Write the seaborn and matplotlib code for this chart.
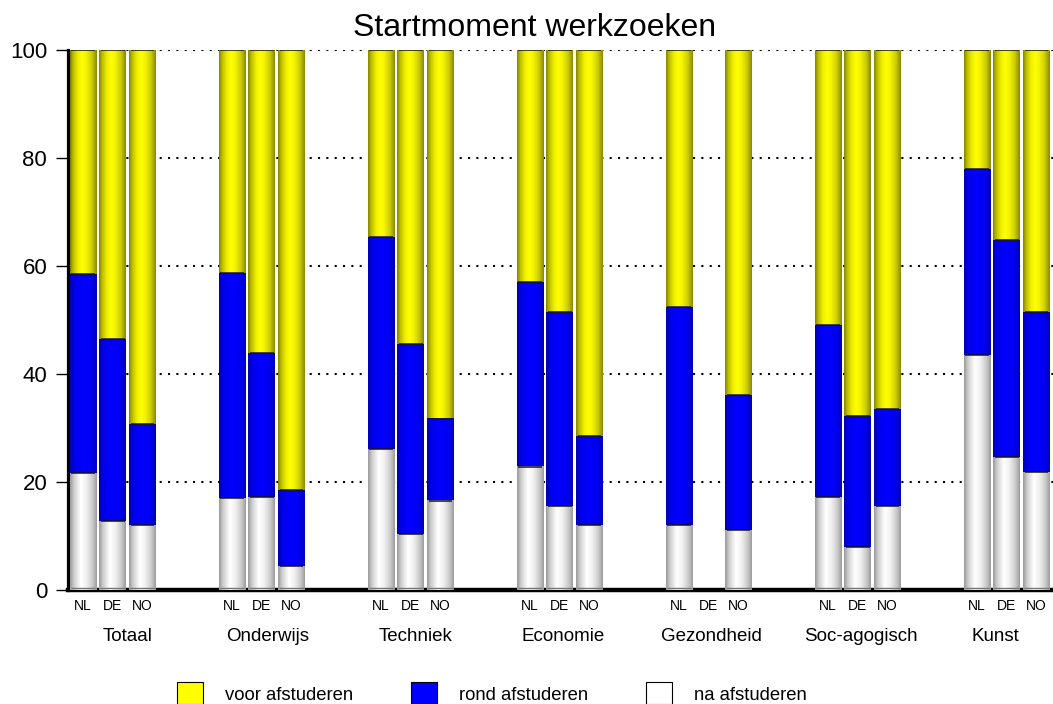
import numpy as np
import pandas as pd
import matplotlib
matplotlib.use('Agg')
import matplotlib.pyplot as plt
from matplotlib.colors import LinearSegmentedColormap
from matplotlib.patches import Patch
import seaborn as sns

# ─────────────────────────────────────────────
# DATA  (percentages)
# ─────────────────────────────────────────────
groups = ['Totaal', 'Onderwijs', 'Techniek', 'Economie', 'Gezondheid', 'Soc-agogisch', 'Kunst']
countries = ['NL', 'DE', 'NO']

# na afstuderen (bottom, white)
na = [21.6, 12.7, 11.9,
      17.0, 17.2, 4.4,
      26.0, 10.3, 16.5,
      22.8, 15.5, 11.9,
      11.9, np.nan, 11.1,
      17.2, 7.8, 15.5,
      43.5, 24.6, 21.7]
# rond afstuderen (middle, blue)
rond = [36.8, 33.7, 18.8,
        41.7, 26.7, 14.0,
        39.3, 35.2, 15.2,
        34.2, 35.9, 16.6,
        40.5, np.nan, 25.0,
        31.9, 24.4, 17.9,
        34.4, 40.2, 29.7]
# voor afstuderen (top, yellow)
voor = [41.6, 53.6, 69.3,
        41.3, 56.1, 81.6,
        34.7, 54.5, 68.3,
        43.0, 48.6, 71.5,
        47.6, np.nan, 63.9,
        50.9, 67.8, 66.6,
        22.1, 35.2, 48.6]

legend_labels = ['voor afstuderen', 'rond afstuderen', 'na afstuderen']
label_shift = [0.5, 0.2, 0.15, 0.1, 0.1, 0.1, -0.4]   # group label nudges (slots)

# ─────────────────────────────────────────────
# PREPARE
# ─────────────────────────────────────────────
df = pd.DataFrame({
    'group': np.repeat(groups, 3),
    'country': countries * len(groups),
    'na': na, 'rond': rond, 'voor': voor,
})
df['pos'] = [g * 5 + i for g in range(len(groups)) for i in range(3)]
df['top_rond'] = df['na'] + df['rond']
df['top_voor'] = df['top_rond'] + df['voor']
bars = df.dropna().reset_index(drop=True)

sns.set_theme(style='white')
plt.rcParams['font.family'] = ['Liberation Sans', 'DejaVu Sans']
plt.rcParams['text.color'] = 'black'
plt.rcParams['xtick.color'] = 'black'
plt.rcParams['ytick.color'] = 'black'

cm_yellow = LinearSegmentedColormap.from_list('y', [
    (0.0, '#868600'), (0.12, '#c0c000'), (0.3, '#f0f000'), (0.45, '#ffff00'),
    (0.6, '#f4f400'), (0.82, '#cccc00'), (1.0, '#8a8a00')])
cm_blue = LinearSegmentedColormap.from_list('b', [
    (0.0, '#0000b0'), (0.15, '#0000e8'), (0.45, '#0000ff'),
    (0.8, '#0000f0'), (1.0, '#0000b8')])
cm_white = LinearSegmentedColormap.from_list('w', [
    (0.0, '#9a9a9a'), (0.15, '#cfcfcf'), (0.4, '#ffffff'),
    (0.6, '#f2f2f2'), (0.85, '#c8c8c8'), (1.0, '#9c9c9c')])
grad = np.linspace(0, 1, 64).reshape(1, -1)

fig = plt.figure(figsize=(10.53, 7.04), dpi=100)
ax = fig.add_axes([0.0646, 0.1626, 0.9354, 0.7663])

layers = [('top_voor', '#ffff00', cm_yellow, 2),
          ('top_rond', '#0000ff', cm_blue, 3),
          ('na', '#ffffff', cm_white, 4)]

for col, base, cmap, z in layers:
    n_before = len(ax.patches)
    sns.barplot(data=bars, x='pos', y=col, native_scale=True, width=0.9,
                color=base, saturation=1, errorbar=None, linewidth=0,
                zorder=z, ax=ax)
    for p in ax.patches[n_before:]:
        x0, y0, w, h = p.get_x(), p.get_y(), p.get_width(), p.get_height()
        ax.imshow(grad, extent=[x0, x0 + w, y0, y0 + h], aspect='auto',
                  cmap=cmap, interpolation='bilinear', zorder=z + 0.05)
        ax.plot([x0 + 0.06 * w, x0 + 0.94 * w], [y0 + h, y0 + h],
                color='#151515', lw=1.1, zorder=z + 0.1, solid_capstyle='butt')
        if col == 'na':
            ax.plot([x0 + 0.04 * w, x0 + 0.96 * w], [0.3, 0.3],
                    color='#777777', lw=1.0, zorder=z + 0.1, solid_capstyle='butt')

# ─────────────────────────────────────────────
# AXES STYLING
# ─────────────────────────────────────────────
ax.set_xlim(-0.5, 32.55)
ax.set_ylim(0, 100)
ax.set_xlabel('')
ax.set_ylabel('')
ax.set_yticks([0, 20, 40, 60, 80, 100])
ax.set_yticklabels(['0', '20', '40', '60', '80', '100'], fontsize=16)
ax.set_xticks(df['pos'])
ax.set_xticklabels(df['country'], fontsize=10)
ax.tick_params(axis='y', length=9, width=1, color='black', pad=6, left=True)
ax.tick_params(axis='x', length=0, pad=7)

ax.set_axisbelow(True)
ax.yaxis.grid(True, color='black', linestyle=(0, (1, 3)), linewidth=1.5)
ax.xaxis.grid(False)

for s in ['top', 'right']:
    ax.spines[s].set_visible(False)
ax.spines['left'].set_linewidth(2.3)
ax.spines['left'].set_color('black')
ax.spines['bottom'].set_linewidth(3.2)
ax.spines['bottom'].set_color('black')
ax.spines['bottom'].set_zorder(1)

for g, name in enumerate(groups):
    ax.text(g * 5 + 1 + label_shift[g], -0.087, name, transform=ax.get_xaxis_transform(),
            ha='center', va='center', fontsize=13.5)

fig.text(0.508, 0.96, 'Startmoment werkzoeken', ha='center', va='center', fontsize=23)

handles = [Patch(facecolor=c, edgecolor='black', linewidth=0.8)
           for c in ['#ffff00', '#0000ff', '#ffffff']]
fig.legend(handles, legend_labels, loc='center left', bbox_to_anchor=(177 / 1053, 0.015),
           ncol=3, frameon=False, fontsize=13.3, handlelength=1.42, handleheight=1.45,
           handletextpad=1.2, columnspacing=3.1, borderpad=0, borderaxespad=0)

fig.savefig('out.png', dpi=100, facecolor='white')
plt.close()
